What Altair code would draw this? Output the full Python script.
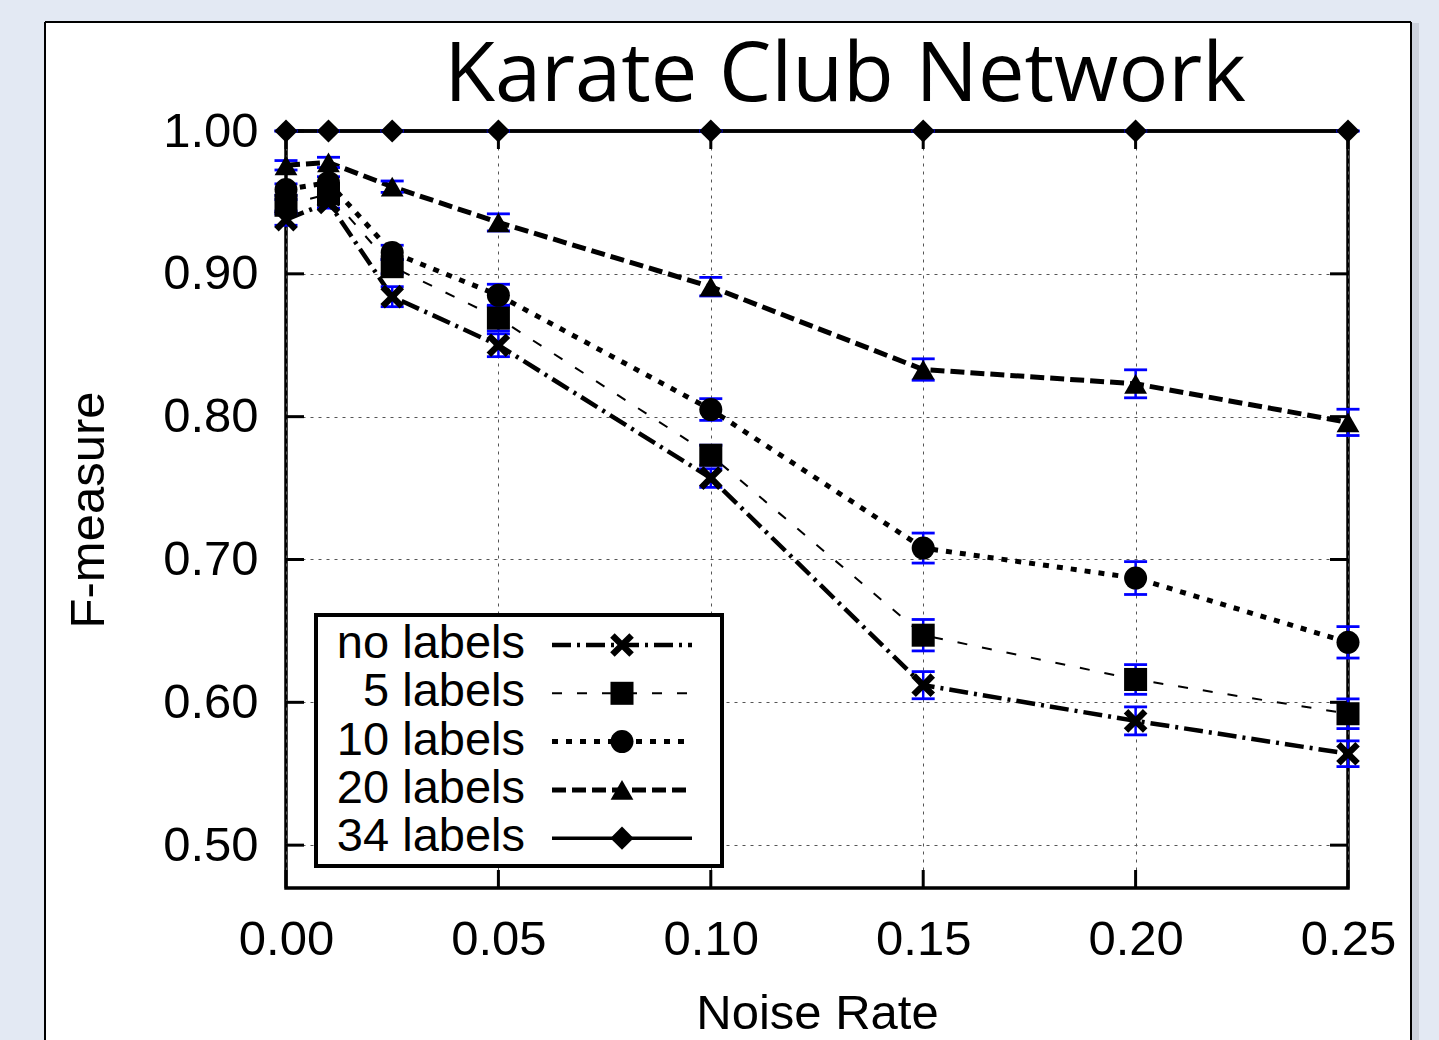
import altair as alt
import pandas as pd

# ---- data -------------------------------------------------------------
noise_rate = [0.0, 0.01, 0.025, 0.05, 0.10, 0.15, 0.20, 0.25]
series_names = ["no labels", "5 labels", "10 labels", "20 labels", "34 labels"]

fm_no_labels = [0.938, 0.950, 0.884, 0.850, 0.757, 0.612, 0.587, 0.564]
fm_5_labels = [0.948, 0.956, 0.905, 0.869, 0.773, 0.647, 0.616, 0.592]
fm_10_labels = [0.959, 0.964, 0.915, 0.885, 0.805, 0.708, 0.687, 0.642]
fm_20_labels = [0.976, 0.978, 0.961, 0.936, 0.891, 0.833, 0.823, 0.796]
fm_34_labels = [1.0, 1.0, 1.0, 1.0, 1.0, 1.0, 1.0, 1.0]

err_no_labels = [0.004, 0.004, 0.007, 0.008, 0.0065, 0.0095, 0.0098, 0.009]
err_5_labels = [0.004, 0.004, 0.005, 0.009, 0.007, 0.011, 0.0104, 0.0104]
err_10_labels = [0.004, 0.004, 0.005, 0.0077, 0.0076, 0.0105, 0.0115, 0.011]
err_20_labels = [0.0033, 0.0036, 0.004, 0.006, 0.0065, 0.0075, 0.0098, 0.0092]
err_34_labels = [0.0, 0.0, 0.0, 0.0, 0.0, 0.0, 0.0, 0.0]

x_ticks = [0.0, 0.05, 0.10, 0.15, 0.20, 0.25]
y_ticks = [0.5, 0.6, 0.7, 0.8, 0.9, 1.0]

rows = []
for name, vals, errs in zip(
    series_names,
    [fm_no_labels, fm_5_labels, fm_10_labels, fm_20_labels, fm_34_labels],
    [err_no_labels, err_5_labels, err_10_labels, err_20_labels, err_34_labels],
):
    for x, v, e in zip(noise_rate, vals, errs):
        rows.append({"series": name, "noise": x, "fm": v, "lo": v - e, "hi": v + e})
df = pd.DataFrame(rows)

# ---- styles -----------------------------------------------------------
X_PATH = ("M-0.62,-1L0,-0.38L0.62,-1L1,-0.62L0.38,0L1,0.62L0.62,1L0,0.38"
          "L-0.62,1L-1,0.62L-0.38,0L-1,-0.62Z")
DASH = {"no labels": [19, 6, 3, 6], "5 labels": [10, 15], "10 labels": [6, 8],
        "20 labels": [14, 6], "34 labels": [1, 0]}
WIDTH = {"no labels": 4.5, "5 labels": 2, "10 labels": 5, "20 labels": 5, "34 labels": 3.5}
SHAPE = {"no labels": X_PATH, "5 labels": "square", "10 labels": "circle",
         "20 labels": "triangle-up", "34 labels": "diamond"}
SIZE = {"no labels": 560, "5 labels": 530, "10 labels": 530, "20 labels": 520, "34 labels": 540}

FONT = "Liberation Sans"
FS = 49
LEG_FS = 47
W, H = 1062, 757
PAD = {"left": 286, "top": 131, "right": 91, "bottom": 152}
BG = "#e3e9f3"
ERR_BLUE = "#0000ff"

xs = alt.Scale(domain=[0, 0.25], nice=False, zero=False)
ys = alt.Scale(domain=[0.47, 1.0], nice=False, zero=False)

def sc(d, t):
    return alt.Scale(domain=series_names, range=[d[s] for s in series_names], type=t)

x_axis = alt.Axis(values=x_ticks, format=".2f", title="Noise Rate", ticks=False, domain=False,
                  tickSize=0, labelPadding=27, labelFlush=False, labelOverlap=False,
                  grid=True, gridDash=[3, 5], gridColor="#555", gridWidth=1,
                  titleY=140, titleBaseline="alphabetic")
y_axis = alt.Axis(values=y_ticks, format=".2f", title="F-measure", ticks=False, domain=False,
                  tickSize=0, labelPadding=28, labelFlush=False, labelOverlap=False,
                  grid=True, gridDash=[3, 5], gridColor="#555", gridWidth=1,
                  titleAngle=270, titleX=-183, titleY=H / 2, titleAlign="center",
                  titleBaseline="alphabetic")


def X(field):
    return alt.X(field, scale=xs, axis=x_axis, title="Noise Rate")


def Y(field):
    return alt.Y(field, scale=ys, axis=y_axis, title="F-measure")


one = pd.DataFrame({"k": [0]})

# ---- decoration around the plot ----------------------------------------
def rect(x0, x1, y0, y1, **kw):
    return alt.Chart(one).mark_rect(**kw).encode(
        x=alt.value(x0), x2=alt.value(x1), y=alt.value(y0), y2=alt.value(y1))

def edge(x0, x1, y0, y1, width=2):
    return alt.Chart(one).mark_rule(color="black", strokeWidth=width).encode(
        x=alt.value(x0), x2=alt.value(x1), y=alt.value(y0), y2=alt.value(y1))

BOTTOM = H + PAD["bottom"]
frame = [
    rect(-PAD["left"], -241, -PAD["top"], BOTTOM, fill=BG),
    rect(-PAD["left"], W + PAD["right"], -PAD["top"], -109, fill=BG),
    rect(1125, W + PAD["right"], -PAD["top"], BOTTOM, fill=BG),
    rect(1126, 1133, -108, BOTTOM, fill="#b9c0ca", opacity=0.55),
    edge(-241, -241, -109, BOTTOM),
    edge(1125, 1125, -109, BOTTOM),
    edge(-241, 1125, -109, -109),
]

# ---- inward tick marks on all four sides -------------------------------
xt = pd.DataFrame({"noise": x_ticks})
yt = pd.DataFrame({"fm": y_ticks})
tick_len = 18
ticks = [
    alt.Chart(xt).mark_rule(color="black", strokeWidth=3).encode(
        x=X("noise:Q"), y=alt.value(H), y2=alt.value(H - tick_len)),
    alt.Chart(xt).mark_rule(color="black", strokeWidth=3).encode(
        x=X("noise:Q"), y=alt.value(0), y2=alt.value(tick_len)),
    alt.Chart(yt).mark_rule(color="black", strokeWidth=3).encode(
        y=Y("fm:Q"), x=alt.value(0), x2=alt.value(tick_len)),
    alt.Chart(yt).mark_rule(color="black", strokeWidth=3).encode(
        y=Y("fm:Q"), x=alt.value(W - tick_len), x2=alt.value(W)),
]

# ---- series -------------------------------------------------------------
lines = alt.Chart(df).mark_line(color="black").encode(
    x=X("noise:Q"),
    y=Y("fm:Q"),
    detail="series:N",
    strokeDash=alt.StrokeDash("series:N", scale=sc(DASH, "ordinal"), legend=None),
    strokeWidth=alt.StrokeWidth("series:O", scale=sc(WIDTH, "ordinal"), legend=None),
)

err_rules = alt.Chart(df).mark_rule(color=ERR_BLUE, strokeWidth=2.5).encode(
    x=X("noise:Q"), y=Y("lo:Q"), y2="hi:Q")
cap_lo = alt.Chart(df).mark_tick(color=ERR_BLUE, orient="horizontal", size=23,
                                 thickness=2.8, opacity=1).encode(
    x=X("noise:Q"), y=Y("lo:Q"))
cap_hi = alt.Chart(df).mark_tick(color=ERR_BLUE, orient="horizontal", size=23,
                                 thickness=2.8, opacity=1).encode(
    x=X("noise:Q"), y=Y("hi:Q"))

points = alt.Chart(df).mark_point(filled=True, color="black", opacity=1).encode(
    x=X("noise:Q"),
    y=Y("fm:Q"),
    shape=alt.Shape("series:N", scale=sc(SHAPE, "ordinal"), legend=None),
    size=alt.Size("series:O", scale=sc(SIZE, "ordinal"), legend=None),
)

# ---- legend box --------------------------------------------------------
LEG_X0, LEG_X1, LEG_Y0, LEG_Y1 = 30, 436, 484, 735
LEG_ROW0, LEG_STEP = 514, 48.3
legend_layers = [rect(LEG_X0, LEG_X1, LEG_Y0, LEG_Y1, fill="white", stroke="black",
                      strokeWidth=4)]
for i, name in enumerate(series_names):
    yy = LEG_ROW0 + i * LEG_STEP
    legend_layers.append(
        alt.Chart(one).mark_text(align="right", baseline="alphabetic", font=FONT,
                                 fontSize=LEG_FS, color="black").encode(
            x=alt.value(239), y=alt.value(yy + 13), text=alt.value(name)))
    legend_layers.append(
        alt.Chart(one).mark_rule(color="black", strokeWidth=WIDTH[name],
                                 strokeDash=DASH[name]).encode(
            x=alt.value(266), x2=alt.value(406), y=alt.value(yy)))
    legend_layers.append(
        alt.Chart(one).mark_point(filled=True, color="black", opacity=1,
                                  shape=SHAPE[name], size=SIZE[name]).encode(
            x=alt.value(336), y=alt.value(yy)))

title = alt.Chart(one).mark_text(font="Open Sans", fontSize=83, align="center",
                                 baseline="alphabetic", color="black").encode(
    x=alt.value(559), y=alt.value(-30), text=alt.value("Karate Club Network"))

chart = alt.layer(
    lines, *frame, *ticks, err_rules, cap_lo, cap_hi, points, *legend_layers, title
).properties(
    width=W, height=H, padding=PAD, autosize=alt.AutoSizeParams(type="none"),
    background="white",
).configure_view(
    stroke="black", strokeWidth=3.5
).configure_axis(
    labelFont=FONT, labelFontSize=FS, labelColor="black",
    titleFont=FONT, titleFontSize=FS, titleFontWeight="normal", titleColor="black",
)

chart.save("out.html", embed_options={"renderer": "svg", "actions": False})
